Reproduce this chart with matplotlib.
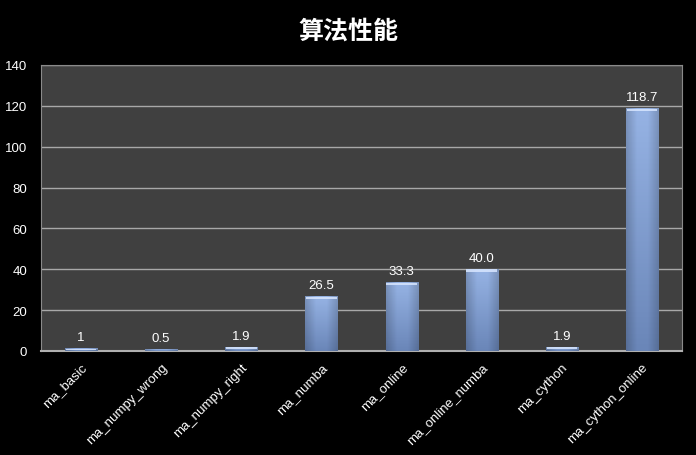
import numpy as np
import matplotlib
matplotlib.use("Agg")
import matplotlib.pyplot as plt
from matplotlib.colors import LinearSegmentedColormap

plt.rcParams['font.family'] = ['Liberation Sans', 'Noto Sans CJK SC', 'DejaVu Sans']

# datos
methods = ["ma_basic", "ma_numpy_wrong", "ma_numpy_right", "ma_numba",
           "ma_online", "ma_online_numba", "ma_cython", "ma_cython_online"]
speedup = [1, 0.5, 1.9, 26.5, 33.3, 40.0, 1.9, 118.7]
value_labels = ["1", "0.5", "1.9", "26.5", "33.3", "40.0", "1.9", "118.7"]
yticks = [0, 20, 40, 60, 80, 100, 120, 140]

fig = plt.figure(figsize=(6.96, 4.56), dpi=100, facecolor="black")
ax = fig.add_axes([41 / 696, 1 - 352 / 456, 641 / 696, 286 / 456])
ax.set_facecolor("#404040")

x = np.arange(len(methods))
bars = ax.bar(x, speedup, width=0.4, color="#88a6d8", zorder=2)

# degradado en cada barra
grad_cmap = LinearSegmentedColormap.from_list("barblue", ["#6a86b8", "#96b3e4"])
edge_cmap = LinearSegmentedColormap.from_list("edge", [(0, 0, 0, 0.18), (0, 0, 0, 0), (0, 0, 0, 0), (0, 0, 0, 0.18)])
vert = np.linspace(0, 1, 100).reshape(-1, 1)
horiz = np.linspace(0, 1, 50).reshape(1, -1)
for b in bars:
    x0, w, h = b.get_x(), b.get_width(), b.get_height()
    ax.imshow(vert, cmap=grad_cmap, origin="lower", aspect="auto",
              extent=(x0, x0 + w, 0, h), zorder=3, clip_path=b, clip_on=True)
    ax.imshow(horiz, cmap=edge_cmap, origin="lower", aspect="auto",
              extent=(x0, x0 + w, 0, h), zorder=4, clip_path=b, clip_on=True)
    # tapa superior clara
    cap = min(1.2, h * 0.5)
    ax.fill_between([x0 + 0.01, x0 + w - 0.01], h - cap, h, color="#d8e6ff", alpha=0.85,
                    zorder=5, linewidth=0)

for xi, v, lab in zip(x, speedup, value_labels):
    ax.annotate(lab, (xi, v), xytext=(0, 4), textcoords="offset points",
                ha="center", va="bottom", color="white", fontsize=9.5, zorder=6)

ax.set_xlim(-0.5, len(methods) - 0.5)
ax.set_ylim(0, 140)
ax.set_yticks(yticks)
ax.set_xticks(x)
ax.set_xticklabels(methods, rotation=45, ha="right", rotation_mode="anchor")
ax.tick_params(colors="white", labelsize=9.5, length=0)
ax.tick_params(axis="y", pad=10)
ax.tick_params(axis="x", pad=7)
ax.grid(axis="y", color="#a8a8a8", linewidth=1, zorder=1)
for s in ax.spines.values():
    s.set_color("#8a8a8a")
ax.spines["bottom"].set_color("#b0b0b0")
ax.spines["bottom"].set_linewidth(1.5)

fig.text(0.5, 1 - 32 / 456, "算法性能", ha="center", va="center", color="white",
         fontsize=18, weight="bold", family=["Noto Sans CJK SC", "DejaVu Sans"])

fig.savefig("out.png", dpi=100, facecolor="black")
